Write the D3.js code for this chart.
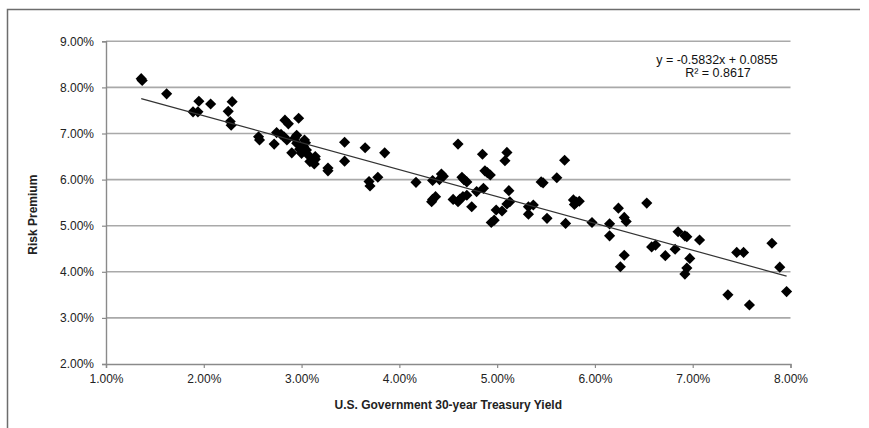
<!DOCTYPE html>
<html>
<head>
<meta charset="utf-8">
<script src="https://cdn.jsdelivr.net/npm/d3@7"></script>
<style>
  html, body { margin: 0; padding: 0; background: #fff; }
  svg { display: block; font-family: "Liberation Sans", Arial, sans-serif; }
</style>
</head>
<body>
<svg id="chart" width="869" height="428"></svg>
<script>
// Treasury yield (%) vs. risk premium (%)
const yieldPct = [
  1.36, 1.37, 1.62, 1.89, 1.94, 1.95, 2.07, 2.25, 2.29, 2.27, 2.28,
  2.56, 2.57, 2.72, 2.745, 2.83, 2.865, 2.97, 2.82, 2.85, 2.93, 2.95,
  3.03, 2.90, 2.98, 3.00, 3.05, 3.07, 3.085, 3.14, 3.13, 3.14, 2.79,
  2.95, 3.02, 3.04, 3.27, 3.27, 3.44, 3.44, 3.65, 3.85, 3.69, 3.70,
  3.78, 4.17, 4.34, 4.43, 4.45, 4.41, 4.33, 4.34, 4.37, 4.60, 4.85,
  5.10, 5.08, 4.64, 4.69, 4.66, 4.875, 4.93, 4.90, 4.79, 4.86, 4.55,
  4.60, 4.65, 4.62, 4.69, 4.74, 5.12, 5.13, 5.10, 4.99, 5.05, 4.97,
  4.94, 5.32, 5.37, 5.32, 5.51, 5.45, 5.47, 5.61, 5.69, 5.70, 5.78,
  5.84, 5.81, 5.79, 5.97, 6.15, 6.15, 6.24, 6.30, 6.32, 6.30, 6.26,
  6.53, 6.58, 6.62, 6.72, 6.82, 6.85, 6.92, 6.94, 6.97, 6.94, 6.92,
  7.07, 7.36, 7.45, 7.52, 7.58, 7.81, 7.89, 7.96
];
const premiumPct = [
  8.19, 8.15, 7.86, 7.47, 7.47, 7.70, 7.64, 7.48, 7.69, 7.26, 7.18,
  6.93, 6.86, 6.77, 7.02, 7.29, 7.21, 7.33, 6.93, 6.86, 6.90, 6.79,
  6.86, 6.58, 6.66, 6.57, 6.64, 6.53, 6.39, 6.44, 6.34, 6.50, 6.98,
  6.96, 6.72, 6.80, 6.25, 6.19, 6.81, 6.40, 6.69, 6.58, 5.96, 5.86,
  6.05, 5.94, 5.98, 6.12, 6.07, 6.00, 5.52, 5.57, 5.63, 6.77, 6.55,
  6.59, 6.41, 6.05, 5.95, 6.00, 6.19, 6.10, 6.15, 5.74, 5.81, 5.57,
  5.52, 5.63, 5.58, 5.66, 5.41, 5.76, 5.52, 5.47, 5.34, 5.32, 5.12,
  5.07, 5.41, 5.45, 5.25, 5.16, 5.95, 5.93, 6.04, 6.42, 5.05, 5.56,
  5.53, 5.51, 5.46, 5.07, 5.04, 4.78, 5.38, 5.18, 5.09, 4.36, 4.11,
  5.49, 4.54, 4.58, 4.35, 4.49, 4.87, 4.78, 4.76, 4.29, 4.08, 3.95,
  4.69, 3.50, 4.42, 4.42, 3.28, 4.62, 4.10, 3.57
];

// Linear fit reported for the series
const slope = -0.5832;
const intercept = 0.0855;
const rSquared = 0.8617;

const xTickValues = [1, 2, 3, 4, 5, 6, 7, 8];
const yTickValues = [2, 3, 4, 5, 6, 7, 8, 9];

const xTitle = "U.S. Government 30-year Treasury Yield";
const yTitle = "Risk Premium";

const W = 869, H = 428;
const plot = { left: 106, right: 790.5, top: 41.3, bottom: 364 };

const svg = d3.select("#chart");

// Outer frame (top and left edges)
svg.append("path")
  .attr("d", `M7.5,${H} L7.5,9.5 L860,9.5`)
  .attr("fill", "none")
  .attr("stroke", "#6d6d6d")
  .attr("stroke-width", 1.5);

const x = d3.scaleLinear().domain([1, 8]).range([plot.left, plot.right]);
const y = d3.scaleLinear().domain([2, 9]).range([plot.bottom, plot.top]);

const fmt = v => v.toFixed(2) + "%";

// Horizontal gridlines
svg.append("g")
  .selectAll("line")
  .data(yTickValues.filter(v => v > 2))
  .join("line")
  .attr("x1", plot.left)
  .attr("x2", plot.right)
  .attr("y1", d => y(d))
  .attr("y2", d => y(d))
  .attr("stroke", "#a9a9a9")
  .attr("stroke-width", 1.6);

// Y axis
const yAxis = svg.append("g")
  .attr("transform", `translate(${plot.left},0)`)
  .call(d3.axisLeft(y).tickValues(yTickValues).tickFormat(fmt).tickSize(4).tickPadding(8));
yAxis.select(".domain").attr("stroke", "#8a8a8a").attr("stroke-width", 1.4);
yAxis.selectAll(".tick line").attr("stroke", "#8a8a8a").attr("stroke-width", 1.2);
yAxis.selectAll(".tick text")
  .attr("fill", "#222")
  .style("font-size", "12px")
  .style("font-family", "'Liberation Sans', Arial, sans-serif");

// X axis
const xAxis = svg.append("g")
  .attr("transform", `translate(0,${plot.bottom})`)
  .call(d3.axisBottom(x).tickValues(xTickValues).tickFormat(fmt).tickSize(4).tickPadding(6));
xAxis.select(".domain").attr("stroke", "#8a8a8a").attr("stroke-width", 1.4);
xAxis.selectAll(".tick line").attr("stroke", "#8a8a8a").attr("stroke-width", 1.2);
xAxis.selectAll(".tick text")
  .attr("fill", "#222")
  .style("font-size", "12px")
  .style("font-family", "'Liberation Sans', Arial, sans-serif");

// Axis titles
svg.append("text")
  .attr("x", (plot.left + plot.right) / 2)
  .attr("y", 409)
  .attr("text-anchor", "middle")
  .attr("font-weight", "bold")
  .attr("font-size", 12)
  .attr("fill", "#222")
  .text(xTitle);

svg.append("text")
  .attr("transform", `translate(37,${(plot.top + plot.bottom) / 2 + 12}) rotate(-90)`)
  .attr("text-anchor", "middle")
  .attr("font-weight", "bold")
  .attr("font-size", 12)
  .attr("fill", "#222")
  .text(yTitle);

// Scatter points as diamonds
const points = yieldPct.map((v, i) => ({ x: v, y: premiumPct[i] }));
const diamond = d3.symbol().type(d3.symbolSquare).size(62);
svg.append("g")
  .selectAll("path")
  .data(points)
  .join("path")
  .attr("d", diamond)
  .attr("transform", d => `translate(${x(d.x)},${y(d.y)}) rotate(45)`)
  .attr("fill", "#000");

// Trend line across the data range
const xMin = d3.min(yieldPct), xMax = d3.max(yieldPct);
const fit = v => (slope * (v / 100) + intercept) * 100;
svg.append("line")
  .attr("x1", x(xMin)).attr("y1", y(fit(xMin)))
  .attr("x2", x(xMax)).attr("y2", y(fit(xMax)))
  .attr("stroke", "#333")
  .attr("stroke-width", 1.2);

// Equation label
const eq = svg.append("text")
  .attr("text-anchor", "middle")
  .attr("font-size", 12.5)
  .attr("fill", "#111");
eq.append("tspan").attr("x", 717).attr("y", 64)
  .text(`y = ${slope.toFixed(4)}x + ${intercept.toFixed(4)}`);
eq.append("tspan").attr("x", 718).attr("y", 77)
  .text(`R² = ${rSquared.toFixed(4)}`);
</script>
</body>
</html>
